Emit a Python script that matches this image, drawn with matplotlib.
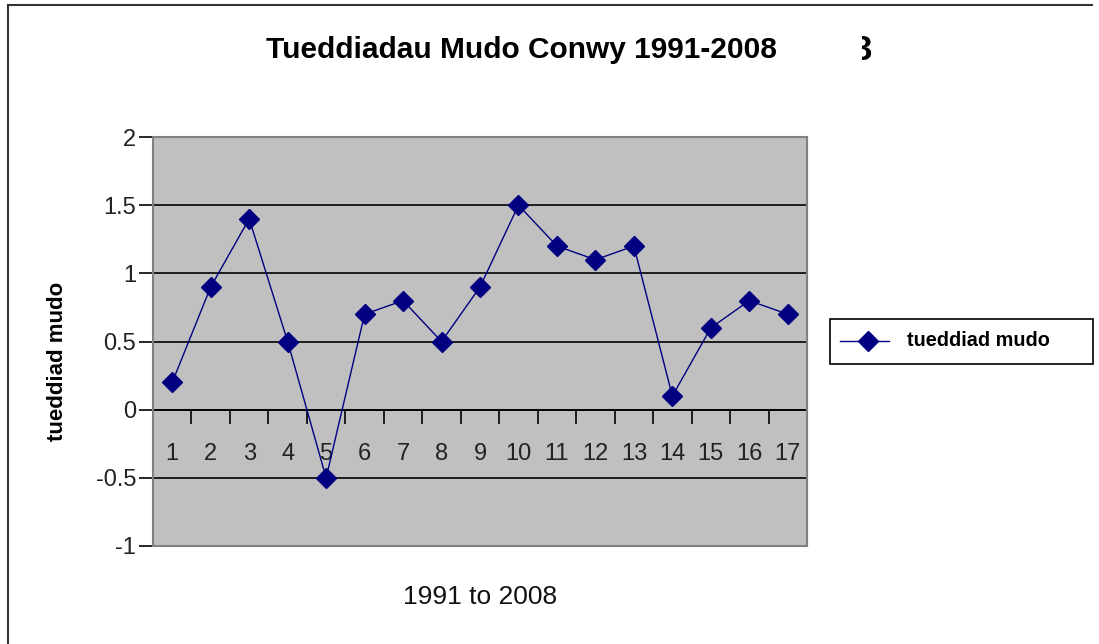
import matplotlib
matplotlib.use("Agg")
import matplotlib.pyplot as plt
from matplotlib.patches import Rectangle
from matplotlib.lines import Line2D

plt.rcParams['font.family'] = ['Liberation Sans', 'DejaVu Sans']
plt.rcParams['axes.unicode_minus'] = False

categories = [str(i) for i in range(1, 18)]
values = [0.2, 0.9, 1.4, 0.5, -0.5, 0.7, 0.8, 0.5, 0.9, 1.5, 1.2, 1.1, 1.2, 0.1, 0.6, 0.8, 0.7]
ytick_values = [-1, -0.5, 0, 0.5, 1, 1.5, 2]
ytick_labels = ["-1", "-0.5", "0", "0.5", "1", "1.5", "2"]
title = "Tueddiadau Mudo Conwy 1991-2008"
series_name = "tueddiad mudo"
xlabel = "1991 to 2008"

W, H = 1099, 644
fig = plt.figure(figsize=(W / 100, H / 100), dpi=100)
fig.patch.set_facecolor("white")

# outer frame (left and top edges visible)
fig.add_artist(Line2D([8 / W, 8 / W], [0, 1 - 5 / H], transform=fig.transFigure, color="#333333", lw=1.5))
fig.add_artist(Line2D([8 / W, 1092 / W], [1 - 5 / H, 1 - 5 / H], transform=fig.transFigure, color="#333333", lw=1.5))

ax = fig.add_axes([153 / W, 1 - 546 / H, 654 / W, 409 / H])
ax.set_facecolor("#C0C0C0")

x = list(range(1, len(values) + 1))
ax.plot(x, values, color="#000080", lw=1, marker="D", markersize=10,
        markerfacecolor="#000080", markeredgecolor="#000080", zorder=5, clip_on=False)

ax.set_xlim(0.5, len(values) + 0.5)
ax.set_ylim(-1, 2)
ax.set_yticks(ytick_values)
ax.set_yticklabels(ytick_labels, fontsize=17, color="#222222")
ax.tick_params(axis="y", direction="out", length=10, width=1.2, pad=2, color="black")
ax.yaxis.grid(True, color="black", lw=1.2)
ax.set_axisbelow(True)

# category axis crosses at zero
ax.spines["bottom"].set_position(("data", 0))
ax.spines["bottom"].set_color("black")
ax.spines["bottom"].set_linewidth(1.2)
ax.spines["left"].set_color("black")
ax.spines["left"].set_linewidth(1.2)
ax.spines["top"].set_color("#808080")
ax.spines["right"].set_color("#808080")
ax.set_xticks(x)
ax.set_xticklabels(categories, fontsize=17, color="#222222")
ax.set_xticks([i + 0.5 for i in range(0, len(values) + 1)], minor=True)
ax.tick_params(axis="x", which="major", length=0, pad=24)
ax.tick_params(axis="x", which="minor", direction="out", length=10, width=1.2, color="black")
ax.add_patch(Rectangle((0, 0), 1, 1, transform=ax.transAxes, fill=False,
                       edgecolor="#808080", lw=1.5, zorder=6, clip_on=False))

fig.text(58 / W, 1 - 361 / H, "tueddiad mudo", rotation=90, fontsize=16, fontweight="bold",
         ha="center", va="center")
fig.text(480 / W, 1 - 597 / H, xlabel, fontsize=19, ha="center", va="center", color="#111111")
fig.text(521 / W, 1 - 50 / H, title, fontsize=21.5, fontweight="bold", ha="center", va="center")

# stray partial glyph near title
fig.text(862 / W, 1 - 51 / H, "3", fontsize=25, fontweight="bold", ha="center", va="center")
fig.add_artist(Rectangle((840 / W, 1 - 80 / H), 22 / W, 60 / H, transform=fig.transFigure,
                         facecolor="white", edgecolor="none", zorder=10))

# legend
fig.add_artist(Rectangle((830 / W, 1 - 364 / H), 263 / W, 45 / H, transform=fig.transFigure,
                         facecolor="white", edgecolor="black", lw=1.2))
fig.add_artist(Line2D([840 / W, 889 / W], [1 - 341 / H, 1 - 341 / H], transform=fig.transFigure,
                      color="#000080", lw=1))
fig.add_artist(Line2D([868 / W], [1 - 341 / H], transform=fig.transFigure, marker="D",
                      markersize=10, color="#000080"))
fig.text(907 / W, 1 - 341 / H, series_name, fontsize=14.3, fontweight="bold", ha="left", va="center")

fig.savefig("out.png", dpi=100)
